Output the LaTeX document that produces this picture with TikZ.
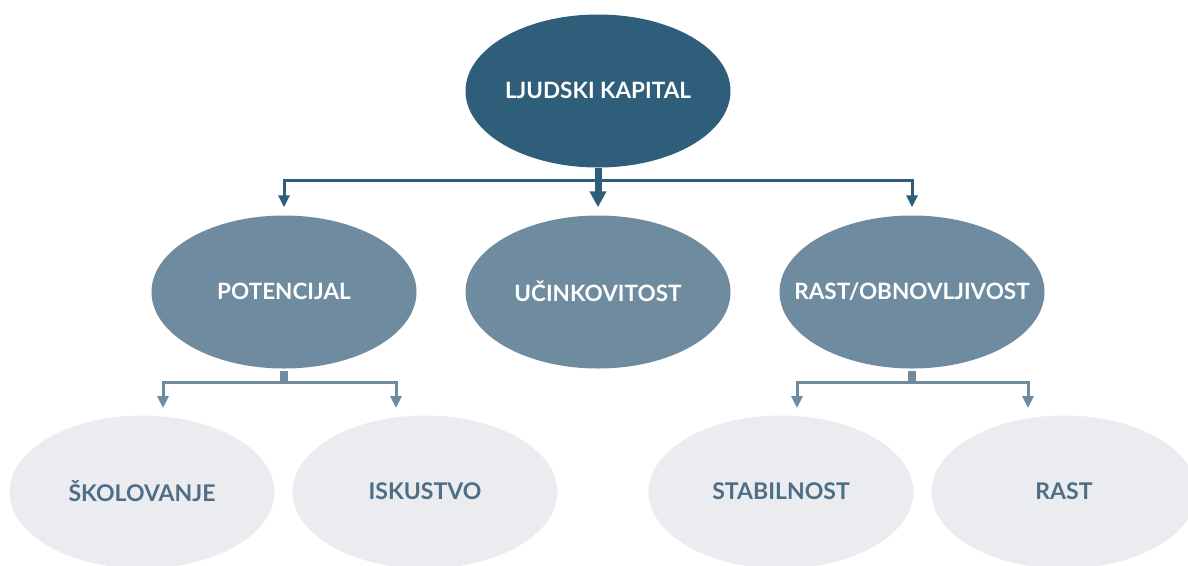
\documentclass[tikz,border=0pt]{standalone}
\usepackage{fontspec}
\setmainfont{Lato}
\usetikzlibrary{shapes.geometric,arrows.meta,calc}
\definecolor{darkblue}{RGB}{47,94,122}
\definecolor{midblue}{RGB}{110,139,160}
\definecolor{paleblue}{RGB}{235,236,240}
\definecolor{labelblue}{RGB}{78,110,134}
% centred label of zero width, so every oval keeps its fixed size
\newcommand{\ovaltext}[1]{\raisebox{2pt}{\makebox[0pt][c]{#1}}}
\tikzset{
  oval/.style={ellipse, minimum width=265pt, minimum height=153pt, inner sep=0pt,
    font=\bfseries\fontsize{22.5}{26}\selectfont},
  rootoval/.style={oval, fill=darkblue, text=white},
  midoval/.style={oval, fill=midblue, text=white},
  leafoval/.style={oval, fill=paleblue, text=labelblue, font=\bfseries\fontsize{23}{26}\selectfont},
  rootlink/.style={draw=darkblue, line width=3pt, -{Triangle[width=11pt,length=12pt]}, shorten >=8pt},
  rootstem/.style={draw=darkblue, line width=7pt, -{Triangle[width=16pt,length=16pt]}, shorten >=8pt},
  midlink/.style={draw=midblue, line width=3pt, -{Triangle[width=11pt,length=12pt]}, shorten >=7pt},
  midstem/.style={draw=midblue, line width=8pt}
}
\begin{document}
\begin{tikzpicture}[x=1pt,y=-1pt]
\useasboundingbox (0,0) rectangle (1188,565);
% root
\node[rootoval] (root) at (598,91) {\ovaltext{LJUDSKI KAPITAL}};
% second level
\node[midoval] (pot) at (284,292) {\ovaltext{POTENCIJAL}};
\node[midoval] (eff) at (598,292) {\ovaltext{UČINKOVITOST}};
\node[midoval] (grow) at (912,292) {\ovaltext{RAST/OBNOVLJIVOST}};
% third level
\node[leafoval] (skol) at (142,492) {\ovaltext{ŠKOLOVANJE}};
\node[leafoval] (isk) at (425,492) {\ovaltext{ISKUSTVO}};
\node[leafoval] (stab) at (781,492) {\ovaltext{STABILNOST}};
\node[leafoval] (rast) at (1064,492) {\ovaltext{RAST}};
% root branches
\coordinate (rootbus) at (598,180);
\draw[rootlink] (rootbus) -| (pot.north);
\draw[rootlink] (rootbus) -| (grow.north);
\draw[rootstem] (root.south) -- (eff.north);
% potential branches
\coordinate (potbus) at (284,382);
\coordinate (skolin) at (163,415);
\coordinate (iskin) at (396,415);
\draw[midstem] ([yshift=-2pt]pot.south) -- (potbus);
\draw[midlink] (potbus) -| (skolin);
\draw[midlink] (potbus) -| (iskin);
% growth branches
\coordinate (growbus) at (912,382);
\coordinate (stabin) at (797,415);
\coordinate (rastin) at (1028,415);
\draw[midstem] ([yshift=-2pt]grow.south) -- (growbus);
\draw[midlink] (growbus) -| (stabin);
\draw[midlink] (growbus) -| (rastin);
\end{tikzpicture}
\end{document}
